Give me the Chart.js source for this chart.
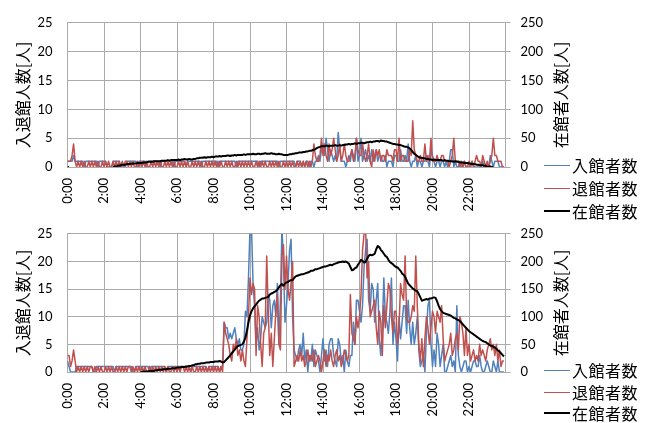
<!DOCTYPE html>
<html><head><meta charset="utf-8">
<script src="https://cdn.jsdelivr.net/npm/chart.js@4/dist/chart.umd.min.js"></script>
<style>
html,body{margin:0;padding:0;background:#fff;}
#wrap{position:relative;width:648px;height:423px;overflow:hidden;background:#fff;}
canvas{position:absolute;left:0;}
.lg{position:absolute;left:544px;height:22px;display:flex;align-items:center;font-family:'Noto Sans CJK JP',sans-serif;font-size:16px;letter-spacing:0.5px;color:#000;white-space:nowrap;}
.lg i{display:inline-block;width:26px;height:0;margin-right:2px;}
</style></head>
<body><div id="wrap">
<canvas id="c1" width="648" height="212" style="top:0px"></canvas>
<canvas id="c2" width="648" height="212" style="top:211px"></canvas>
<div class="lg" style="top:154px"><i style="border-top:1.5px solid #4F81BD"></i>入館者数</div>
<div class="lg" style="top:177px"><i style="border-top:1.5px solid #C0504D"></i>退館者数</div>
<div class="lg" style="top:200px"><i style="border-top:2px solid #000"></i>在館者数</div>
<div class="lg" style="top:359px"><i style="border-top:1.5px solid #4F81BD"></i>入館者数</div>
<div class="lg" style="top:381px"><i style="border-top:1.5px solid #C0504D"></i>退館者数</div>
<div class="lg" style="top:402px"><i style="border-top:2px solid #000"></i>在館者数</div>
</div>
<script>
const stepMinutes = 5;
const tickLabels = ['0:00','2:00','4:00','6:00','8:00','10:00','12:00','14:00','16:00','18:00','20:00','22:00',''];
const seriesNames = ['入館者数','退館者数','在館者数'];

// Upper panel (left axis: 入退館人数, right axis: 在館者人数)
const inTop = [
1,1,1,1,2,1,1,1,1,1,1,0,1,1,1,1,1,1,1,1,0,1,1,1,
1,1,0,0,0,0,1,1,1,1,1,0,0,0,0,1,1,1,1,1,1,1,0,1,
1,1,1,1,0,1,1,1,1,1,1,1,1,0,1,1,1,1,1,1,1,1,0,1,
1,1,1,1,1,1,0,1,1,1,1,1,1,1,1,1,0,1,1,1,1,1,1,1,
1,1,1,0,1,1,1,1,1,1,1,1,1,1,1,0,1,1,1,1,1,1,1,1,
1,1,1,1,1,1,0,1,1,1,1,1,1,1,1,1,1,1,1,0,1,1,1,1,
1,1,1,1,1,1,0,1,1,1,0,1,0,1,1,0,1,1,0,1,1,2,1,3,
4,2,5,3,1,3,2,1,2,1,6,3,1,1,1,0,1,2,1,3,2,1,5,1,
2,5,1,2,3,1,2,1,3,1,2,3,1,2,2,1,1,2,0,1,1,1,0,2,
2,1,1,3,1,1,2,1,4,1,0,1,1,2,0,1,1,0,1,1,2,1,0,3,
2,1,0,1,1,0,1,1,0,1,0,1,3,3,0,1,0,0,1,0,0,1,0,0,
0,0,1,0,0,0,0,0,0,1,0,0,0,0,2,1,0,1,1,1,0,0,0,0];
const outTop = [
1,1,1,2,4,1,0,1,0,1,0,1,0,0,1,0,1,0,1,0,1,0,0,1,
0,1,0,1,0,0,1,0,1,0,1,0,1,0,1,1,0,1,0,1,0,0,1,0,
1,0,1,0,1,0,0,1,0,1,0,1,0,1,0,0,1,0,1,0,1,0,1,0,
0,1,0,1,0,1,0,1,0,0,1,0,1,0,1,0,1,0,0,1,0,1,0,1,
0,1,0,1,0,1,0,0,1,0,1,0,1,0,0,1,0,1,0,1,0,1,0,1,
0,1,0,0,1,0,1,0,1,0,1,0,0,1,0,1,0,1,0,1,0,0,1,0,
1,0,1,0,1,0,0,1,0,1,0,1,0,1,0,1,0,1,4,2,1,1,2,5,
2,4,2,1,4,2,3,5,3,1,2,4,1,2,4,2,1,1,2,3,1,2,5,3,
2,2,4,2,1,2,4,1,0,3,1,3,2,3,1,2,2,1,3,2,2,2,1,3,
3,1,5,1,2,2,1,1,1,3,2,8,3,2,1,1,2,1,1,4,1,2,1,5,
1,1,1,2,1,1,2,2,1,1,1,0,1,2,5,1,1,1,0,1,0,1,0,0,
1,0,1,0,1,2,1,1,0,2,1,0,1,0,1,2,5,2,2,1,1,1,0,0];
const occTop = [
0,0,null,null,null,null,null,null,null,null,null,null,null,null,null,null,null,null,null,null,null,null,null,null,
null,null,null,null,null,null,0,1,1,2,2,3,4,4,4,5,5,5,6,6,6,6,7,7,
7,7,8,8,8,9,9,9,9,10,10,10,10,10,11,11,11,11,12,11,12,12,12,12,
12,13,12,13,13,14,13,13,14,13,13,14,14,15,15,16,16,16,17,16,17,17,17,18,
17,18,18,18,19,18,19,19,19,20,20,19,20,20,21,20,21,21,21,21,22,21,22,22,
22,22,23,22,22,23,23,22,23,23,24,23,23,23,24,23,23,22,22,23,22,22,21,21,
21,21,22,22,23,23,24,24,25,25,25,26,26,27,27,28,28,29,30,31,33,34,35,36,
36,36,37,37,36,37,37,37,38,37,37,38,37,38,38,39,39,40,39,40,40,41,40,41,
41,42,42,41,42,43,43,44,43,44,44,45,45,44,46,45,45,44,44,43,42,41,40,40,
39,39,38,38,37,36,35,35,34,32,30,26,23,21,19,17,16,16,15,15,14,14,13,13,
12,13,12,12,12,12,12,11,12,11,11,10,10,10,9,10,9,9,8,8,8,7,7,7,
6,6,5,5,5,4,4,3,3,3,2,2,1,1,1,0,0,null,null,null,null,null,null,null];

// Lower panel
const inBot = [
2,1,0,0,0,0,1,1,1,1,1,1,1,1,1,1,1,0,0,1,1,1,1,1,
1,1,1,1,1,1,1,0,1,1,1,1,1,1,1,1,1,1,1,0,0,1,1,1,
1,1,1,1,1,1,0,1,1,1,1,1,1,1,1,1,1,0,1,1,1,1,1,1,
1,1,1,1,1,1,1,1,1,0,1,1,1,1,1,1,1,1,1,1,0,1,1,1,
1,1,1,1,0,1,1,9,8,8,6,7,6,7,8,6,5,6,4,4,5,11,10,17,
26,26,16,12,5,8,4,6,10,9,8,9,14,13,8,12,13,10,16,5,13,26,20,9,
12,16,22,24,10,4,3,2,4,5,3,7,2,4,0,3,2,5,1,4,3,2,0,3,
6,2,4,1,5,6,6,3,2,1,6,5,2,3,0,4,2,1,3,3,9,5,13,13,
11,9,12,19,22,24,13,11,16,15,9,13,16,6,3,8,17,10,9,7,11,17,5,9,
6,2,10,6,9,12,12,7,13,8,5,9,5,7,10,4,1,2,3,0,7,12,13,5,
1,4,1,7,5,1,3,5,0,0,1,2,3,1,2,0,12,3,1,0,1,2,2,0,
1,0,1,2,2,1,1,3,1,0,0,1,2,1,0,0,2,1,0,2,0,0,0,0];
const outBot = [
3,3,1,2,4,2,0,1,0,1,0,1,0,1,0,1,1,0,1,0,1,0,1,0,
0,1,0,1,0,1,0,0,1,0,1,0,1,0,1,0,1,1,0,1,0,1,0,1,
0,1,0,1,0,0,1,0,1,0,1,0,1,0,1,0,1,0,1,0,0,1,0,1,
0,1,0,1,1,0,1,0,1,0,1,0,0,1,0,1,0,1,0,1,0,1,0,1,
0,1,0,1,0,1,0,9,7,6,5,3,2,5,4,6,3,4,2,4,2,1,6,10,
17,14,16,15,3,12,10,5,1,7,8,21,11,3,7,1,6,11,14,5,4,21,23,15,
21,15,13,16,20,1,2,3,2,4,2,3,1,2,4,2,3,2,4,1,2,3,2,0,
2,4,1,3,2,4,2,1,3,4,2,3,1,2,4,3,2,3,14,7,6,5,10,8,
10,14,22,25,26,17,20,10,11,12,13,8,5,11,9,3,12,8,12,16,15,10,7,11,
11,5,8,16,14,13,21,10,9,9,10,12,11,21,12,5,2,6,1,6,10,8,5,8,
11,10,7,11,10,9,12,6,2,3,4,5,7,3,4,6,7,4,10,9,7,3,8,3,
5,2,3,4,2,3,2,5,3,4,3,2,4,5,6,4,5,3,5,2,4,1,2,2];
const occBot = [
0,null,null,null,null,null,null,null,null,null,null,null,null,null,null,null,null,null,null,null,null,null,null,null,
null,null,null,null,null,null,null,null,null,null,null,null,null,null,null,null,null,null,null,null,null,null,null,null,
0,0,1,1,1,1,2,2,2,2,3,3,4,4,4,5,5,5,6,6,6,7,7,7,
8,8,8,9,9,9,10,10,11,11,12,12,14,14,15,15,16,16,16,17,17,17,18,18,
18,19,19,19,20,19,17,18,21,24,27,30,34,37,41,44,47,48,49,50,55,62,75,90,
102,110,115,119,122,126,129,131,133,133,134,135,136,140,142,143,145,146,149,153,157,159,156,160,
162,163,165,166,166,170,173,174,175,176,177,177,178,179,180,181,183,183,184,186,186,187,188,189,
190,191,191,192,193,194,193,195,196,197,198,199,199,200,199,200,198,196,190,184,185,188,189,194,
198,203,201,198,199,205,210,212,211,212,214,222,228,226,221,218,214,210,208,203,199,197,195,192,
190,189,186,183,178,176,172,166,160,157,154,151,149,147,146,141,135,129,130,131,132,131,133,133,
134,135,134,128,120,114,110,107,106,105,104,103,102,100,98,97,95,94,92,89,86,83,80,77,
74,72,70,68,66,64,62,60,58,56,55,54,52,50,48,47,46,44,42,39,37,34,31,28];

const gridColor = '#ababab';
Chart.defaults.font.family = "Lato, 'Noto Sans CJK JP', sans-serif";
Chart.defaults.font.size = 13;
Chart.defaults.color = '#000';

const rightTitlePlugin = {
  id: 'rightTitle',
  afterDraw(chart, args, opts) {
    const {ctx, chartArea} = chart;
    ctx.save();
    ctx.translate(opts.x, (chartArea.top + chartArea.bottom) / 2);
    ctx.rotate(-Math.PI / 2);
    ctx.font = "16px 'Noto Sans CJK JP'";
    ctx.fillStyle = '#000';
    ctx.textAlign = 'center';
    ctx.textBaseline = 'middle';
    ctx.fillText(opts.text, 0, 0);
    ctx.restore();
  }
};

function toXY(arr) { return arr.map((v, i) => ({x: i * stepMinutes / 60, y: v})); }

function makeChart(id, inData, outData, occData, padTop, xAxisH) {
  return new Chart(document.getElementById(id), {
    type: 'line',
    data: {datasets: [
      {label: seriesNames[0], data: toXY(inData), borderColor: '#4F81BD', borderWidth: 1.5, yAxisID: 'y', order: 3},
      {label: seriesNames[1], data: toXY(outData), borderColor: '#C0504D', borderWidth: 1.5, yAxisID: 'y', order: 2},
      {label: seriesNames[2], data: toXY(occData), borderColor: '#000000', borderWidth: 2, yAxisID: 'y1', order: 1}
    ]},
    options: {
      responsive: false, animation: false, events: [],
      layout: {padding: {top: padTop, left: 0, right: 0, bottom: 0}},
      elements: {point: {radius: 0}, line: {tension: 0, borderJoinStyle: 'round', fill: false}},
      plugins: {legend: {display: false}, tooltip: {enabled: false},
        rightTitle: {text: '在館者人数[人]', x: 560.5}},
      scales: {
        x: {type: 'linear', min: 0, max: 24,
          afterFit: s => { s.height = xAxisH; },
          ticks: {stepSize: 2, autoSkip: false, minRotation: 90, maxRotation: 90, padding: 11,
            callback: v => tickLabels[Math.round(v / 2)] ?? ''},
          grid: {color: gridColor, lineWidth: 1, drawTicks: false},
          border: {color: gridColor}},
        y: {position: 'left', min: 0, max: 25,
          afterFit: s => { s.width = 67.5; },
          ticks: {stepSize: 5, padding: 15},
          grid: {color: gridColor, lineWidth: 1, drawTicks: false},
          border: {color: gridColor},
          title: {display: true, text: '入退館人数[人]', color: '#000',
            font: {family: "'Noto Sans CJK JP'", size: 16}, padding: {top: 13, bottom: 0}}},
        y1: {position: 'right', min: 0, max: 250,
          afterFit: s => { s.width = 142.5; },
          ticks: {stepSize: 50, padding: 10},
          grid: {drawOnChartArea: false, drawTicks: true, tickLength: 5, color: gridColor},
          border: {color: gridColor}}
      }
    },
    plugins: [rightTitlePlugin]
  });
}

makeChart('c1', inTop, outTop, occTop, 15, 45);
makeChart('c2', inBot, outBot, occBot, 9, 51);
</script>
</body></html>
